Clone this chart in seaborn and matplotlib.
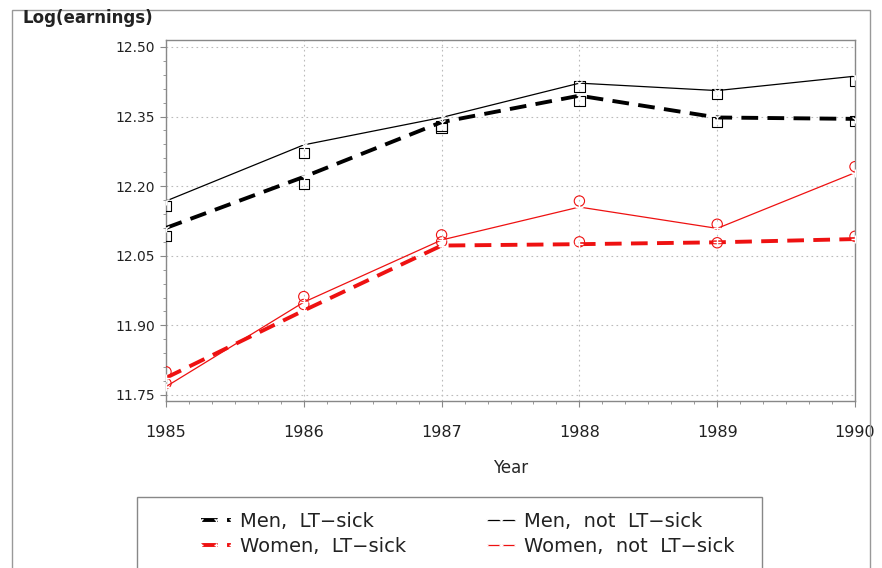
import matplotlib
matplotlib.use("Agg")
import matplotlib.pyplot as plt
from matplotlib.patches import Rectangle
from matplotlib.ticker import AutoMinorLocator
import seaborn as sns
import pandas as pd

years = [1985, 1986, 1987, 1988, 1989, 1990]
men_lt = [12.110, 12.220, 12.338, 12.395, 12.348, 12.345]
men_not = [12.168, 12.289, 12.348, 12.422, 12.406, 12.437]
women_lt = [11.787, 11.932, 12.072, 12.075, 12.079, 12.086]
women_not = [11.768, 11.950, 12.084, 12.155, 12.109, 12.229]
# open symbols (observed values)
men_lt_obs = [12.092, 12.204, 12.325, 12.384, 12.338, 12.341]
men_not_obs = [12.157, 12.272, 12.330, 12.415, 12.398, 12.426]
women_lt_obs = [11.800, 11.945, 12.080, 12.080, 12.078, 12.092]
women_not_obs = [11.775, 11.962, 12.095, 12.168, 12.118, 12.242]

yticks = [11.75, 11.90, 12.05, 12.20, 12.35, 12.50]
yticklabels = ["11.75", "11.90", "12.05", "12.20", "12.35", "12.50"]
labels = ["Men,  LT\u2212sick", "Men,  not  LT\u2212sick",
          "Women,  LT\u2212sick", "Women,  not  LT\u2212sick"]

sns.set_style("white")
plt.rcParams["font.family"] = ["DejaVu Sans"]
plt.rcParams["text.color"] = "#222222"

fig = plt.figure(figsize=(8.82, 5.68), dpi=100)
ax = fig.add_axes([166 / 882, 1 - 401 / 568, (855 - 166) / 882, (401 - 40) / 568])

df = pd.DataFrame({"year": years, "men_lt": men_lt, "men_not": men_not,
                   "women_lt": women_lt, "women_not": women_not,
                   "men_lt_obs": men_lt_obs, "men_not_obs": men_not_obs,
                   "women_lt_obs": women_lt_obs, "women_not_obs": women_not_obs})

specs = [
    ("men_lt", "black", 2.8, (4.3, 2.4), "1", "s"),
    ("men_not", "black", 0.9, None, "1", "s"),
    ("women_lt", "#ee1111", 2.8, (4.3, 2.4), "+", "o"),
    ("women_not", "#ee1111", 0.9, None, "+", "o"),
]
handles = {}
for (col, color, lw, dash, mk, obsmk), lab in zip(specs, labels):
    sns.scatterplot(data=df, x="year", y=col + "_obs", ax=ax, marker=obsmk,
                    s=55, facecolor="none", edgecolor=color, linewidth=0.8,
                    zorder=3)
    sns.lineplot(data=df, x="year", y=col, ax=ax, color=color, linewidth=lw,
                 marker=mk, markersize=6, markeredgewidth=1.0, zorder=4)
    line = ax.lines[-1]
    if dash is not None:
        line.set_dashes(dash)
    handles[col] = line

ax.set_xlim(1985, 1990)
ax.set_ylim(11.737, 12.515)
ax.set_xticks(years)
ax.set_xticklabels([str(y) for y in years])
ax.set_yticks(yticks)
ax.set_yticklabels(yticklabels)
ax.xaxis.set_minor_locator(AutoMinorLocator(6))
ax.yaxis.set_minor_locator(AutoMinorLocator(5))
ax.tick_params(axis="both", which="major", direction="out", length=4,
               width=0.8, color="#888888", pad=5, labelcolor="#222222")
ax.tick_params(axis="x", labelsize=11.5, pad=13)
ax.tick_params(axis="y", labelsize=10, pad=4)
ax.tick_params(axis="both", which="minor", direction="out", length=2,
               width=0.6, color="#888888")
ax.tick_params(axis="both", which="both", bottom=True, left=True)
ax.grid(True, which="major", linestyle=(0, (1.5, 3)), color="#bbbbbb",
        linewidth=0.8)
for s in ax.spines.values():
    s.set_color("#888888")
    s.set_linewidth(1.0)
ax.set_xlabel("Year", fontsize=12, labelpad=14)
ax.set_ylabel("")

fig.text(22 / 882, 1 - 18 / 568, "Log(earnings)", fontsize=12,
         fontweight="bold", ha="left", va="center")

# outer frame
fig.patches.append(Rectangle((12 / 882, -0.05), (870 - 12) / 882,
                             1.05 - 10 / 568, transform=fig.transFigure,
                             fill=False, edgecolor="#999999", linewidth=1.0))
# legend frame
fig.patches.append(Rectangle((137 / 882, -0.05), (762 - 137) / 882,
                             0.05 + (568 - 497) / 568,
                             transform=fig.transFigure, fill=False,
                             edgecolor="#888888", linewidth=1.0))

order = ["men_lt", "women_lt", "men_not", "women_not"]
lab_map = dict(zip(["men_lt", "men_not", "women_lt", "women_not"], labels))
leg = fig.legend([handles[k] for k in order], [lab_map[k] for k in order],
                 ncol=2, loc="upper left",
                 bbox_to_anchor=(195 / 882, 1 - 512 / 568),
                 frameon=False, fontsize=14, handlelength=2.15,
                 handletextpad=0.15, columnspacing=3.8, labelspacing=0.3,
                 numpoints=3, borderpad=0, borderaxespad=0)
for h in leg.legend_handles:
    h.set_markersize(3.5)

fig.savefig("out.png", dpi=100)
